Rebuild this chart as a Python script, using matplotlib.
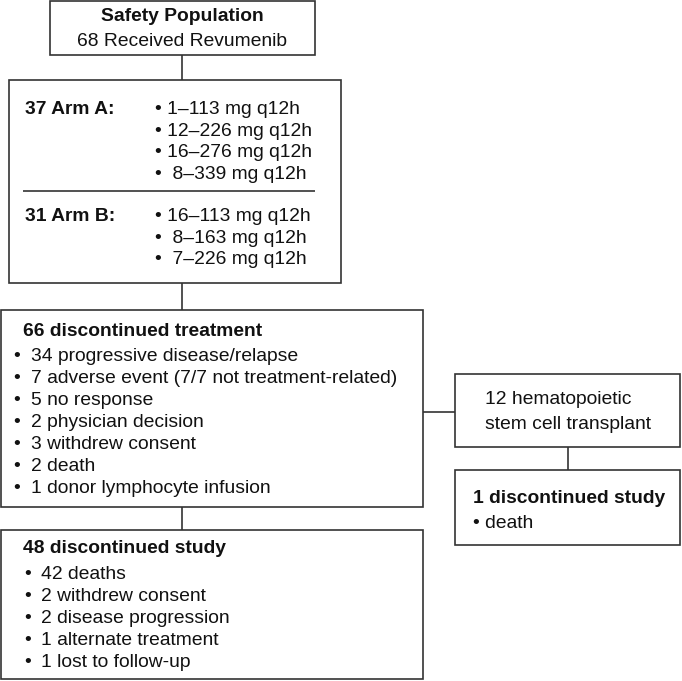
import matplotlib.pyplot as plt
from matplotlib.patches import Rectangle

plt.rcParams['font.family'] = ['Liberation Sans', 'DejaVu Sans']

# Flowchart text content
top_title = "Safety Population"
top_sub = "68 Received Revumenib"
arm_a_label = "37 Arm A:"
arm_a_doses = ["1–113 mg q12h", "12–226 mg q12h", "16–276 mg q12h", " 8–339 mg q12h"]
arm_b_label = "31 Arm B:"
arm_b_doses = ["16–113 mg q12h", " 8–163 mg q12h", " 7–226 mg q12h"]
treat_title = "66 discontinued treatment"
treat_items = ["34 progressive disease/relapse",
               "7 adverse event (7/7 not treatment-related)",
               "5 no response",
               "2 physician decision",
               "3 withdrew consent",
               "2 death",
               "1 donor lymphocyte infusion"]
study_title = "48 discontinued study"
study_items = ["42 deaths", "2 withdrew consent", "2 disease progression",
               "1 alternate treatment", "1 lost to follow-up"]
hsct_lines = ["12 hematopoietic", "stem cell transplant"]
hsct_study_title = "1 discontinued study"
hsct_study_items = ["death"]

W, H = 682, 681
fig = plt.figure(figsize=(W / 100, H / 100), dpi=100)
ax = fig.add_axes([0, 0, 1, 1])
ax.set_xlim(0, W)
ax.set_ylim(H, 0)
ax.axis('off')

LC = '#333333'
LW = 1.2
FS = 13.9
STEP = 22
DY = 1.5  # small downward nudge for text baseline


def box(x0, y0, x1, y1):
    ax.add_patch(Rectangle((x0, y0), x1 - x0, y1 - y0, fill=False,
                           edgecolor=LC, linewidth=LW))


def line(xs, ys):
    ax.plot(xs, ys, color=LC, linewidth=LW, solid_capstyle='butt')


def txt(x, y, s, bold=False, ha='left'):
    ax.text(x, y + DY, s, fontsize=FS, ha=ha, va='center', color='#111111',
            fontweight='bold' if bold else 'normal')


# boxes
box(50, 1, 315, 55)
box(9, 80, 341, 283)
box(1, 310, 423, 507)
box(1, 530, 423, 679)
box(455, 374, 680, 447)
box(455, 470, 680, 545)

# connectors
line([182, 182], [55, 80])
line([182, 182], [283, 310])
line([182, 182], [507, 530])
line([423, 455], [412, 412])
line([568, 568], [447, 470])
line([23, 315], [191, 191])

# top box
txt(182, 15, top_title, bold=True, ha='center')
txt(182, 40, top_sub, ha='center')

# arms
txt(25, 108, arm_a_label, bold=True)
for i, d in enumerate(arm_a_doses):
    txt(155, 108 + i * 21.7, "• " + d)
txt(25, 215, arm_b_label, bold=True)
for i, d in enumerate(arm_b_doses):
    txt(155, 215 + i * 21.7, "• " + d)

# discontinued treatment
txt(23, 330, treat_title, bold=True)
for i, s in enumerate(treat_items):
    txt(13, 355 + i * STEP, "•")
    txt(31, 355 + i * STEP, s)

# discontinued study
txt(23, 547, study_title, bold=True)
for i, s in enumerate(study_items):
    txt(24, 573 + i * STEP, "•")
    txt(41, 573 + i * STEP, s)

# HSCT
for i, s in enumerate(hsct_lines):
    txt(485, 398 + i * 25, s)
txt(473, 497, hsct_study_title, bold=True)
for i, s in enumerate(hsct_study_items):
    txt(473, 522 + i * STEP, "• " + s)

fig.savefig('out.png', dpi=100)
